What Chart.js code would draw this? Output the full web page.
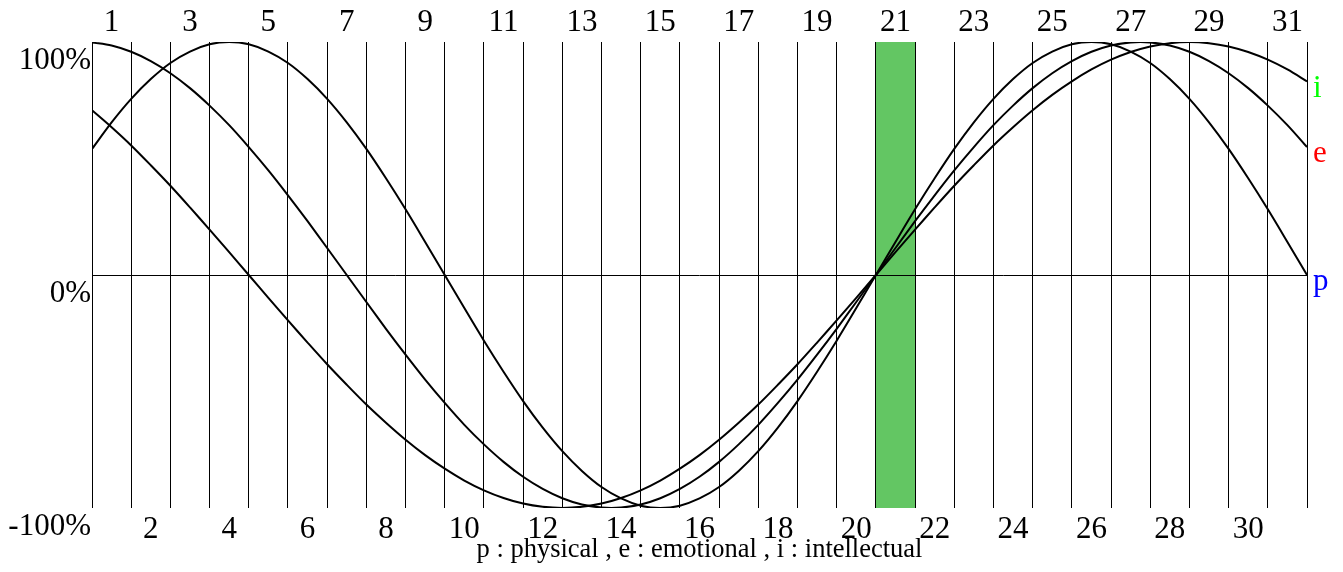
<!DOCTYPE html>
<html>
<head>
<meta charset="utf-8">
<title>Biorhythm</title>
<script src="https://cdn.jsdelivr.net/npm/chart.js@4.4.1/dist/chart.umd.min.js"></script>
<style>
  html, body { margin: 0; padding: 0; background: #fff; }
  #wrap { width: 1343px; height: 572px; position: relative; }
</style>
</head>
<body>
<div id="wrap"><canvas id="bio"></canvas></div>
<script>
// Day labels (one per column) and y tick labels
const dayLabels = ['1', '2', '3', '4', '5', '6', '7', '8', '9', '10', '11', '12', '13', '14', '15', '16',
    '17', '18', '19', '20', '21', '22', '23', '24', '25', '26', '27', '28', '29', '30', '31'];
const yLabels = ['-100%', '0%', '100%'];

// Sample positions along the month (0 = left edge of day 1, 31 = right edge of day 31)
const positions = [0, 0.5, 1, 1.5, 2, 2.5, 3, 3.5, 4, 4.5, 5, 5.5, 6, 6.5, 7, 7.5, 8, 8.5, 9, 9.5,
    10, 10.5, 11, 11.5, 12, 12.5, 13, 13.5, 14, 14.5, 15, 15.5, 16, 16.5, 17, 17.5, 18, 18.5, 19, 19.5,
    20, 20.5, 21, 21.5, 22, 22.5, 23, 23.5, 24, 24.5, 25, 25.5, 26, 26.5, 27, 27.5, 28, 28.5, 29, 29.5,
    30, 30.5, 31];

// Cycle values in percent
const physical = [54.1, 65.5, 75.6, 84.1, 91.0, 95.9, 99.0, 100, 99.0, 95.9, 91.0, 84.1, 75.6, 65.5,
    54.1, 41.5, 28.2, 14.2, 0, -14.2, -28.2, -41.5, -54.1, -65.5, -75.6, -84.1, -91.0, -95.9, -99.0,
    -100, -99.0, -95.9, -91.0, -84.1, -75.6, -65.5, -54.1, -41.5, -28.2, -14.2, 0, 14.2, 28.2, 41.5,
    54.1, 65.5, 75.6, 84.1, 91.0, 95.9, 99.0, 100, 99.0, 95.9, 91.0, 84.1, 75.6, 65.5, 54.1, 41.5,
    28.2, 14.2, 0];
const emotional = [99.8, 98.5, 95.8, 91.8, 86.6, 80.2, 72.7, 64.3, 54.9, 44.9, 34.2, 23.1, 11.6, 0,
    -11.6, -23.1, -34.2, -44.9, -54.9, -64.3, -72.7, -80.2, -86.6, -91.8, -95.8, -98.5, -99.8, -99.8,
    -98.5, -95.8, -91.8, -86.6, -80.2, -72.7, -64.3, -54.9, -44.9, -34.2, -23.1, -11.6, 0, 11.6, 23.1,
    34.2, 44.9, 54.9, 64.3, 72.7, 80.2, 86.6, 91.8, 95.8, 98.5, 99.8, 99.8, 98.5, 95.8, 91.8, 86.6,
    80.2, 72.7, 64.3, 54.9];
const intellectual = [70.7, 63.4, 55.6, 47.1, 38.3, 29.0, 19.5, 9.8, 0, -9.8, -19.5, -29.0, -38.3,
    -47.1, -55.6, -63.4, -70.7, -77.3, -83.1, -88.2, -92.4, -95.7, -98.1, -99.5, -100, -99.5, -98.1,
    -95.7, -92.4, -88.2, -83.1, -77.3, -70.7, -63.4, -55.6, -47.1, -38.3, -29.0, -19.5, -9.8, 0, 9.8,
    19.5, 29.0, 38.3, 47.1, 55.6, 63.4, 70.7, 77.3, 83.1, 88.2, 92.4, 95.7, 98.1, 99.5, 100, 99.5,
    98.1, 95.7, 92.4, 88.2, 83.1];

const seriesTags = ['p', 'e', 'i'];
const todayColumn = 20;   // day 21 is highlighted
const legendText = 'p : physical , e : emotional , i : intellectual';

const SERIF = "'Liberation Serif', 'Times New Roman', serif";
const tagColors = ['#0000ff', '#ff0000', '#00ff00'];

function toPoints(values) {
    return values.map((v, i) => ({ x: positions[i], y: v }));
}

// Green column behind the grid for the highlighted day
const todayBand = {
    id: 'todayBand',
    beforeDraw(chart) {
        const { ctx, chartArea, scales } = chart;
        const x0 = scales.x.getPixelForValue(todayColumn);
        const x1 = scales.x.getPixelForValue(todayColumn + 1);
        ctx.save();
        ctx.fillStyle = '#63c663';
        ctx.fillRect(x0, chartArea.top, x1 - x0, chartArea.bottom - chartArea.top);
        ctx.restore();
    }
};

// Coloured p / e / i tags at the right end of each curve
const endTags = {
    id: 'endTags',
    afterDatasetsDraw(chart) {
        const { ctx, chartArea, scales } = chart;
        ctx.save();
        ctx.font = '31px ' + SERIF;
        ctx.textAlign = 'left';
        ctx.textBaseline = 'middle';
        chart.data.datasets.forEach((ds, i) => {
            const last = ds.data[ds.data.length - 1];
            const y = scales.y.getPixelForValue(last.y);
            ctx.fillStyle = tagColors[i];
            ctx.fillText(seriesTags[i], chartArea.right + 6, y + 7);
        });
        ctx.restore();
    }
};

const lineStyle = {
    borderColor: '#000',
    borderWidth: 2,
    pointRadius: 0,
    tension: 0.3,
    fill: false
};

new Chart(document.getElementById('bio'), {
    type: 'line',
    data: {
        datasets: [
            { label: 'physical', data: toPoints(physical), ...lineStyle },
            { label: 'emotional', data: toPoints(emotional), ...lineStyle },
            { label: 'intellectual', data: toPoints(intellectual), ...lineStyle }
        ]
    },
    options: {
        responsive: true,
        maintainAspectRatio: false,
        animation: false,
        layout: { padding: { left: 0, right: 36, top: 0, bottom: 0 } },
        plugins: {
            legend: { display: false },
            tooltip: { enabled: false }
        },
        scales: {
            x: {
                type: 'linear',
                position: 'bottom',
                min: 0,
                max: 31,
                border: { display: false },
                grid: { color: '#000', lineWidth: 1, drawTicks: false },
                ticks: {
                    stepSize: 1,
                    autoSkip: false,
                    maxRotation: 0,
                    minRotation: 0,
                    padding: 3,
                    labelOffset: 19.6,
                    color: '#000',
                    font: { family: SERIF, size: 31 },
                    callback: (value) => (value < 31 && value % 2 === 1) ? dayLabels[value] : ''
                },
                title: {
                    display: true,
                    text: legendText,
                    color: '#000',
                    font: { family: SERIF, size: 26.5 },
                    padding: { top: 0, bottom: 6 }
                },
                afterFit: (scale) => { scale.height = 64; }
            },
            xTop: {
                type: 'linear',
                position: 'top',
                min: 0,
                max: 31,
                border: { display: false },
                grid: { display: false, drawTicks: false },
                ticks: {
                    stepSize: 1,
                    autoSkip: false,
                    maxRotation: 0,
                    minRotation: 0,
                    padding: 1,
                    labelOffset: 19.6,
                    color: '#000',
                    font: { family: SERIF, size: 31 },
                    callback: (value) => (value < 31 && value % 2 === 0) ? dayLabels[value] : ''
                },
                afterFit: (scale) => { scale.height = 42; }
            },
            y: {
                min: -100,
                max: 100,
                border: { display: false },
                grid: {
                    drawTicks: false,
                    lineWidth: 1,
                    color: (c) => c.tick && c.tick.value === 0 ? '#000' : 'rgba(0,0,0,0)'
                },
                ticks: {
                    stepSize: 100,
                    padding: 1,
                    labelOffset: 19,
                    color: '#000',
                    font: { family: SERIF, size: 31 },
                    callback: (value) => yLabels[(value + 100) / 100]
                },
                afterFit: (scale) => { scale.width = 92; }
            }
        }
    },
    plugins: [todayBand, endTags]
});
</script>
</body>
</html>
